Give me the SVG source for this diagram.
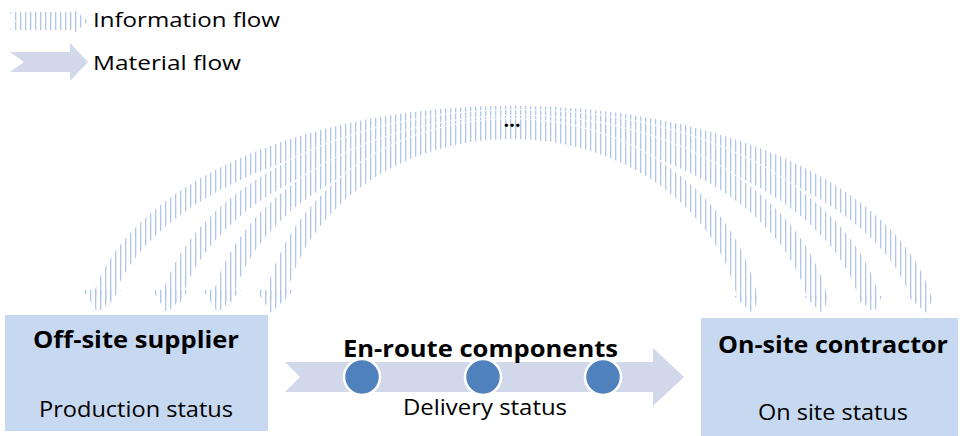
<svg xmlns="http://www.w3.org/2000/svg" width="960" height="436" viewBox="0 0 960 436">
  <style>
    .t { font-family: "Open Sans", "Liberation Sans", sans-serif; fill: #000; }
    .b { font-weight: bold; }
    .box { fill: #c6d9f1; }
    .mat { fill: #d0d8e9; }
    .dot { fill: #4f81bd; stroke: #ffffff; stroke-width: 2.5; }
    .band { fill: none; stroke: url(#vs); stroke-width: 20; }
    .under { fill: none; stroke: #ffffff; stroke-width: 22; }
  </style>
  <defs>
    <pattern id="vs" patternUnits="userSpaceOnUse" width="5" height="10">
      <rect x="0" y="0" width="1.3" height="10" fill="#afc6e8"/>
    </pattern>
  </defs>
  <rect width="960" height="436" fill="#ffffff"/>

  <g id="legend">
    <polygon points="10,12 72,12 72,8 88,21 72,35 72,30 10,30 16,21" fill="url(#vs)"/>
    <text class="t" x="93" y="27" font-size="20" textLength="187" lengthAdjust="spacingAndGlyphs">Information flow</text>
    <polygon class="mat" points="10,52 70,52 70,43 88,62 70,81 70,72 10,72 24,62"/>
    <text class="t" x="93" y="70" font-size="20" textLength="148" lengthAdjust="spacingAndGlyphs">Material flow</text>
  </g>

  <g id="connectors">
    <path class="under" d="M 102,300 A 415 218 0 0 1 922,300"/>
    <path class="band" d="M 102,300 A 415 218 0 0 1 922,300"/>
    <path class="under" d="M 171,300 A 354 214 0 0 1 870,300"/>
    <path class="band" d="M 171,300 A 354 214 0 0 1 870,300"/>
    <path class="under" d="M 222,300 A 302 208 0 0 1 818,300"/>
    <path class="band" d="M 222,300 A 302 208 0 0 1 818,300"/>
    <path class="under" d="M 275,300 A 240 206 0 0 1 748,300"/>
    <path class="band" d="M 275,300 A 240 206 0 0 1 748,300"/>
    <g fill="url(#vs)">
      <polygon points="83,290 121,290 98,313"/>
      <polygon points="152,290 190,290 167,313"/>
      <polygon points="203,290 241,290 218,313"/>
      <polygon points="256,290 294,290 271,313"/>
      <polygon points="734,296 760,296 752,313"/>
      <polygon points="804,296 830,296 822,313"/>
      <polygon points="856,296 882,296 874,313"/>
      <polygon points="908,296 934,296 926,313"/>
    </g>
    <text class="t b" x="512" y="127" font-size="20" text-anchor="middle">…</text>
    <polygon id="material-arrow" class="mat" points="285,362 653,362 653,348 684,377 653,406 653,392 285,392 300,377"/>
  </g>

  <g id="supplier">
    <rect class="box" x="5" y="315" width="263" height="116"/>
    <text class="t b" x="33" y="348" font-size="23" textLength="206" lengthAdjust="spacingAndGlyphs">Off-site supplier</text>
    <text class="t" x="39" y="417" font-size="22" textLength="194" lengthAdjust="spacingAndGlyphs">Production status</text>
  </g>

  <g id="enroute">
    <circle class="dot" cx="362" cy="377" r="18"/>
    <circle class="dot" cx="483" cy="377" r="18"/>
    <circle class="dot" cx="603" cy="377" r="18"/>
    <text class="t b" x="343" y="357" font-size="23" textLength="275" lengthAdjust="spacingAndGlyphs">En-route components</text>
    <text class="t" x="403" y="415" font-size="22" textLength="164" lengthAdjust="spacingAndGlyphs">Delivery status</text>
  </g>

  <g id="contractor">
    <rect class="box" x="701" y="318" width="257" height="118"/>
    <text class="t b" x="718" y="353" font-size="23" textLength="230" lengthAdjust="spacingAndGlyphs">On-site contractor</text>
    <text class="t" x="758" y="420" font-size="22" textLength="150" lengthAdjust="spacingAndGlyphs">On site status</text>
  </g>
</svg>
